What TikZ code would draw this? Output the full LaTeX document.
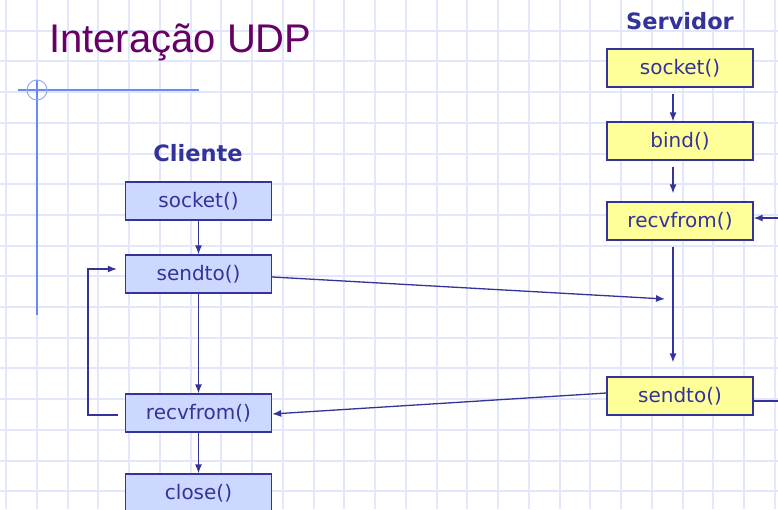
\documentclass[tikz,border=0pt]{standalone}
\usepackage{fontspec}
\setmainfont{DejaVu Sans}
\newfontfamily\titlefont{Liberation Sans}
\usetikzlibrary{arrows.meta}

\definecolor{inkblue}{RGB}{51,51,153}
\definecolor{clifill}{RGB}{204,216,255}
\definecolor{srvfill}{RGB}{255,255,153}
\definecolor{gridpale}{RGB}{226,231,252}
\definecolor{crossblue}{RGB}{104,138,245}
\definecolor{titleplum}{RGB}{102,0,102}

\tikzset{
  call/.style={draw=inkblue, line width=1.3pt, minimum width=146pt, minimum height=38pt,
    inner sep=0pt, text=inkblue, font=\fontsize{20}{24}\selectfont},
  clibox/.style={call, fill=clifill},
  srvbox/.style={call, fill=srvfill},
  side/.style={text=inkblue, font=\fontsize{22.5}{26}\selectfont\bfseries},
  flow/.style={draw=inkblue, line width=1.3pt, -{Latex[length=9pt,width=7pt]}},
}

\begin{document}
\begin{tikzpicture}[x=1pt, y=-1pt]
\useasboundingbox (0,0) rectangle (778,509);
\clip (0,0) rectangle (778,509);
\fill[white] (0,0) rectangle (778,509);
%%% background grid
\foreach \k in {0,...,25}{\draw[gridpale, line width=2pt] (6+30.75*\k,0) -- (6+30.75*\k,509);}
\foreach \k in {1,...,16}{\draw[gridpale, line width=2pt] (0,30.7*\k) -- (778,30.7*\k);}
%%% title and crosshair
\node[anchor=base west, text=titleplum, font=\titlefont\fontsize{40}{48}\selectfont, inner sep=0pt] (title) at (49,52) {Interação UDP};
\draw[crossblue, line width=2.2pt] (18,90) -- (199,90) (37,80) -- (37,315);
\draw[crossblue!70, line width=1pt] (37,90) circle[radius=10];
%%% client side
\node[side] (cli) at (198,153) {Cliente};
\node[clibox] (csock) at (198.5,201) {socket()};
\node[clibox] (csend) at (198.5,274) {sendto()};
\node[clibox] (crecv) at (198.5,413) {recvfrom()};
\node[clibox] (cclose) at (198.5,493) {close()};
\draw[flow] (csock) -- (csend);
\draw[flow] (csend) -- (crecv);
\draw[flow] (crecv) -- (cclose);
\draw[flow] ([xshift=-7pt,yshift=-2pt]crecv.west) -- ++(-30,0) |- ([xshift=-8pt,yshift=5pt]csend.west);
%%% server side
\node[side] (srv) at (680,21) {Servidor};
\node[srvbox] (ssock) at (680,68) {socket()};
\node[srvbox] (sbind) at (680,141) {bind()};
\node[srvbox] (srecv) at (680,221) {recvfrom()};
\node[srvbox] (ssend) at (680,396) {sendto()};
\draw[flow] ([xshift=-7pt,yshift=-6pt]ssock.south) -- ([xshift=-7pt]sbind.north);
\draw[flow] ([xshift=-7pt,yshift=-6pt]sbind.south) -- ([xshift=-7pt,yshift=8pt]srecv.north);
\draw[flow] ([xshift=-7pt,yshift=-6pt]srecv.south) -- ([xshift=-7pt,yshift=14pt]ssend.north);
\coordinate (sback) at (790,218);
\coordinate (sout) at (790,401);
\draw[flow] (sback) -- (srecv.east |- sback);
\draw[draw=inkblue, line width=2.2pt] ([yshift=-5pt]ssend.east) -- (sout);
%%% datagrams
\coordinate (dgram) at (665,299);
\draw[flow] ([yshift=-3pt]csend.east) -- (dgram);
\draw[flow] ([yshift=3pt]ssend.west) -- ([yshift=-1pt]crecv.east);
\end{tikzpicture}
\end{document}
